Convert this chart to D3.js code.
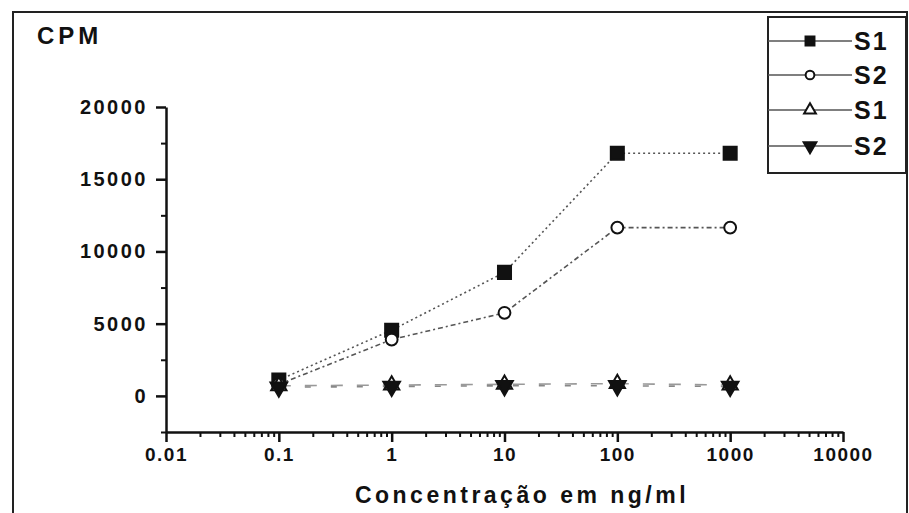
<!DOCTYPE html>
<html>
<head>
<meta charset="utf-8">
<script src="https://cdn.jsdelivr.net/npm/d3@7"></script>
<style>
    body { margin: 0; background: #fff; }
    svg { display: block; font-family: "Liberation Sans", Arial, sans-serif; }
    .tick text { font-weight: bold; font-size: 19px; letter-spacing: 1.5px; fill: #111; }
    .yAxis .tick text { font-size: 20px; letter-spacing: 2.5px; }
</style>
</head>
<body>
<svg id="chart" width="909" height="513"></svg>
<script>
// values
var concentrations = [0.1, 1, 10, 100, 1000];
var s1Square = [1100, 4550, 8550, 16800, 16800];
var s2Circle = [800, 3900, 5750, 11650, 11650];
var s1Triangle = [700, 750, 800, 850, 750];
var s2Triangle = [600, 650, 700, 700, 650];

var xTickValues = [0.01, 0.1, 1, 10, 100, 1000, 10000];
var xTickLabels = ["0.01", "0.1", "1", "10", "100", "1000", "10000"];
var yTickValues = [0, 5000, 10000, 15000, 20000];
var yTickLabels = ["0", "5000", "10000", "15000", "20000"];
var legendLabels = ["S1", "S2", "S1", "S2"];

var series = [
    { name: legendLabels[0], values: s1Square, symbol: d3.symbolSquare, size: 170, fill: "#111", dash: "2,3", stroke: "#555", legendSize: 80 },
    { name: legendLabels[1], values: s2Circle, symbol: d3.symbolCircle, size: 110, fill: "#fff", dash: "5,3,2,3", stroke: "#555", legendSize: 60 },
    { name: legendLabels[2], values: s1Triangle, symbol: d3.symbolTriangle, size: 100, fill: "#fff", dash: "12,14", stroke: "#999", legendSize: 60 },
    { name: legendLabels[3], values: s2Triangle, symbol: d3.symbolTriangle, size: 120, fill: "#111", dash: "6,20", stroke: "#888", flip: true, legendSize: 70 }
];

var svg = d3.select("#chart");

// outer frame, bottom edge runs off the picture
svg.append("rect")
    .attr("x", 13).attr("y", 12)
    .attr("width", 894).attr("height", 520)
    .attr("fill", "none")
    .attr("stroke", "#222")
    .attr("stroke-width", 2);

var x = d3.scaleLog().domain([0.01, 10000]).range([166, 843]);
var y = d3.scaleLinear().domain([-2500, 20000]).range([432, 107]);

// minor ticks
var xMinor = [];
xTickValues.slice(0, -1).forEach(d => {
    for (var k = 2; k <= 9; k++) xMinor.push(d * k);
});
var yMinor = d3.range(-2500, 20000, 5000);

svg.append("g")
    .attr("transform", "translate(0,432)")
    .call(d3.axisBottom(x).tickValues(xMinor).tickSize(5).tickFormat(""))
    .call(g => g.select(".domain").remove())
    .selectAll("line").attr("stroke", "#111").attr("stroke-width", 2);

svg.append("g")
    .attr("transform", "translate(0,432)")
    .call(d3.axisBottom(x)
        .tickValues(xTickValues)
        .tickSize(10)
        .tickSizeOuter(0)
        .tickPadding(6)
        .tickFormat((d, i) => xTickLabels[i]))
    .call(g => g.select(".domain").attr("stroke", "#111").attr("stroke-width", 2.5))
    .call(g => g.selectAll("line").attr("stroke", "#111").attr("stroke-width", 2.5));

svg.append("g")
    .attr("transform", "translate(166,0)")
    .call(d3.axisLeft(y).tickValues(yMinor).tickSize(5).tickFormat(""))
    .call(g => g.select(".domain").remove())
    .selectAll("line").attr("stroke", "#111").attr("stroke-width", 2);

svg.append("g")
    .classed("yAxis", true)
    .attr("transform", "translate(166,0)")
    .call(d3.axisLeft(y)
        .tickValues(yTickValues)
        .tickSize(10)
        .tickSizeOuter(0)
        .tickPadding(8)
        .tickFormat((d, i) => yTickLabels[i]))
    .call(g => g.select(".domain").attr("stroke", "#111").attr("stroke-width", 2.5))
    .call(g => g.selectAll("line").attr("stroke", "#111").attr("stroke-width", 2.5));

// axis titles
svg.append("text")
    .attr("x", 37).attr("y", 44)
    .attr("font-size", 24).attr("font-weight", "bold")
    .attr("letter-spacing", 4)
    .attr("fill", "#111")
    .text("CPM");

svg.append("text")
    .attr("x", 522).attr("y", 503)
    .attr("text-anchor", "middle")
    .attr("font-size", 23).attr("font-weight", "bold")
    .attr("letter-spacing", 3.5)
    .attr("fill", "#111")
    .text("Concentração em ng/ml");

// lines
var line = d3.line()
    .x((d, i) => x(concentrations[i]))
    .y(d => y(d));

svg.selectAll(".series")
    .data(series)
    .enter()
    .append("path")
    .classed("series", true)
    .attr("d", s => line(s.values))
    .attr("fill", "none")
    .attr("stroke", s => s.stroke)
    .attr("stroke-width", 1.6)
    .attr("stroke-dasharray", s => s.dash);

// markers
series.forEach(s => {
    svg.append("g")
        .selectAll("path")
        .data(s.values)
        .enter()
        .append("path")
        .attr("transform", (d, i) => "translate(" + x(concentrations[i]) + "," + y(d) + ")" + (s.flip ? " rotate(180)" : ""))
        .attr("d", d3.symbol().type(s.symbol).size(s.size))
        .attr("fill", s.fill)
        .attr("stroke", "#111")
        .attr("stroke-width", 2);
});

// legend
var legend = svg.append("g");

legend.append("rect")
    .attr("x", 768).attr("y", 17)
    .attr("width", 138).attr("height", 156)
    .attr("fill", "#fff")
    .attr("stroke", "#222")
    .attr("stroke-width", 2);

var legendRows = [41, 75, 110, 146];

var rows = legend.selectAll(".legendRow")
    .data(series)
    .enter()
    .append("g")
    .classed("legendRow", true)
    .attr("transform", (s, i) => "translate(0," + legendRows[i] + ")");

rows.append("line")
    .attr("x1", 768).attr("x2", 852)
    .attr("stroke", "#555")
    .attr("stroke-width", 1.6);

rows.append("path")
    .attr("transform", s => "translate(810,0)" + (s.flip ? " rotate(180)" : ""))
    .attr("d", s => d3.symbol().type(s.symbol).size(s.legendSize)())
    .attr("fill", s => s.fill)
    .attr("stroke", "#111")
    .attr("stroke-width", 2);

rows.append("text")
    .attr("x", 854).attr("y", 9)
    .attr("font-size", 25).attr("font-weight", "bold")
    .attr("letter-spacing", 2)
    .attr("fill", "#111")
    .text(s => s.name);
</script>
</body>
</html>
